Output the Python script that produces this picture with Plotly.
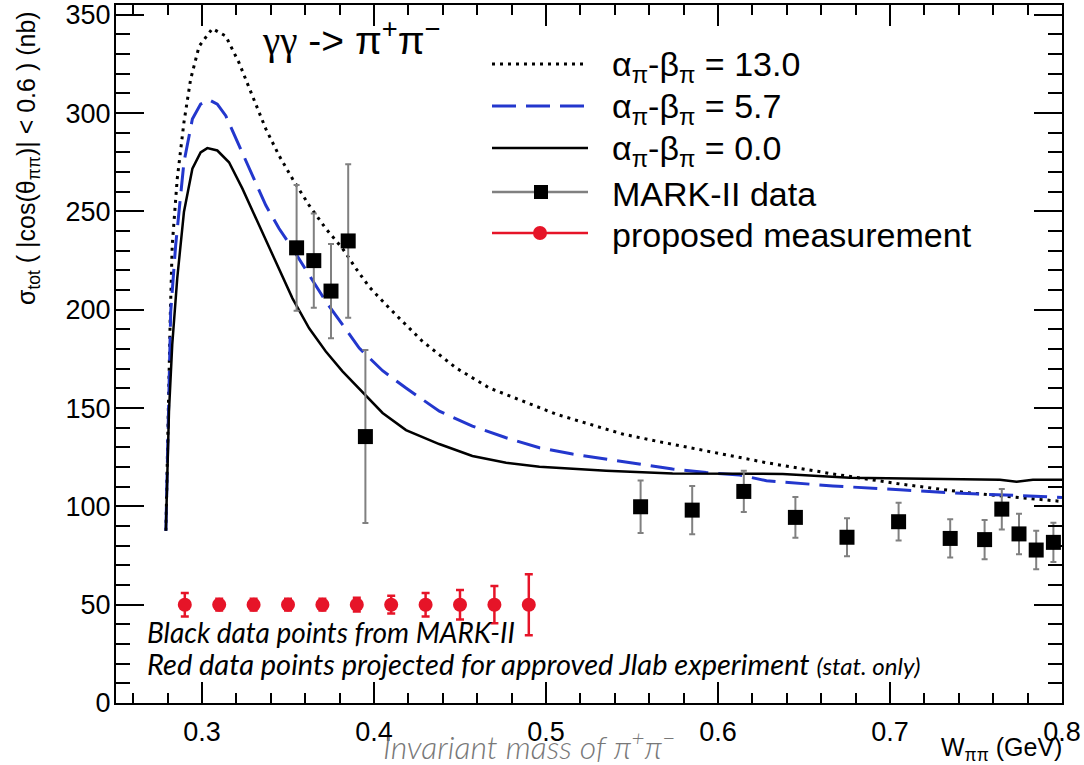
import plotly.graph_objects as go

# ---------------- data ----------------
# theory curves: alpha_pi - beta_pi = 0.0 (solid)
w_th0 = [0.2790, 0.2808, 0.2827, 0.2856, 0.2895, 0.2944, 0.2992, 0.3031, 0.3089, 0.3157,
         0.3235, 0.3332, 0.3429, 0.3526, 0.3623, 0.3720, 0.3817, 0.3914, 0.4050, 0.4186,
         0.4379, 0.4572, 0.4768, 0.4962, 0.5350, 0.5736, 0.6126, 0.6376, 0.6766, 0.7133,
         0.7639, 0.7736, 0.7831, 0.8000]
s_th0 = [87.6, 148.4, 182.2, 216.0, 249.7, 271.7, 280.0, 282.2, 281.0, 275.0,
         261.6, 243.0, 224.4, 205.8, 190.6, 178.8, 168.7, 160.0, 147.5, 138.8,
         131.7, 125.6, 122.2, 120.1, 118.1, 116.7, 116.4, 116.5, 114.6, 114.0,
         113.5, 112.5, 113.5, 113.5]

# alpha_pi - beta_pi = 5.7 (dashed blue)
w_th57 = [0.2790, 0.2805, 0.2818, 0.2847, 0.2895, 0.2944, 0.2992, 0.3041, 0.3089, 0.3138,
          0.3215, 0.3293, 0.3371, 0.3448, 0.3526, 0.3623, 0.3720, 0.3817, 0.3914, 0.4050,
          0.4186, 0.4380, 0.4572, 0.4768, 0.4962, 0.5154, 0.5350, 0.5544, 0.5736, 0.5932,
          0.6126, 0.6282, 0.6668, 0.7058, 0.7446, 0.7931, 0.8000]
s_th57 = [87.6, 150.0, 199.0, 232.9, 275.0, 297.0, 304.6, 306.8, 304.6, 298.7,
          283.5, 268.3, 253.1, 241.3, 231.2, 217.7, 204.2, 192.4, 180.5, 169.0,
          160.2, 148.4, 140.8, 134.9, 129.8, 126.6, 124.1, 121.6, 119.0, 117.2,
          116.0, 113.0, 110.4, 108.4, 106.5, 104.9, 104.5]

# alpha_pi - beta_pi = 13.0 (dotted)
w_th13 = [0.2790, 0.2805, 0.2815, 0.2827, 0.2856, 0.2895, 0.2934, 0.2983, 0.3060, 0.3138,
          0.3215, 0.3293, 0.3371, 0.3448, 0.3526, 0.3623, 0.3720, 0.3817, 0.3895, 0.3973,
          0.4089, 0.4281, 0.4477, 0.4671, 0.4863, 0.5059, 0.5253, 0.5445, 0.5641, 0.5833,
          0.6126, 0.6282, 0.6668, 0.7058, 0.7446, 0.7832, 0.8000]
s_th13 = [87.6, 160.0, 195.0, 232.9, 266.6, 295.3, 317.3, 334.0, 343.0, 339.2,
          325.7, 308.8, 292.0, 278.4, 266.6, 253.1, 241.3, 231.2, 221.0, 211.5,
          200.8, 184.0, 170.4, 160.2, 153.5, 146.9, 141.8, 136.8, 133.2, 129.8,
          124.8, 122.2, 116.5, 111.4, 107.0, 103.9, 102.5]

# MARK-II data
mark_w = [0.355, 0.365, 0.375, 0.385, 0.395, 0.555, 0.585, 0.615, 0.645, 0.675,
          0.705, 0.735, 0.755, 0.765, 0.775, 0.785, 0.795]
mark_s = [231.5, 225.0, 209.5, 235.0, 135.5, 99.8, 98.1, 107.6, 94.4, 84.3,
          92.2, 83.7, 83.1, 98.6, 86.0, 77.8, 81.7]
mark_e = [32.0, 24.0, 24.0, 39.0, 44.0, 13.4, 12.3, 10.5, 10.4, 9.7,
          9.6, 9.7, 10.0, 10.3, 10.3, 9.8, 10.0]

# proposed measurement
prop_w = [0.29, 0.31, 0.33, 0.35, 0.37, 0.39, 0.41, 0.43, 0.45, 0.47, 0.49]
prop_s = [50.0, 50.0, 50.0, 50.0, 50.0, 50.0, 50.0, 50.0, 50.0, 50.0, 50.0]
prop_e = [6.0, 3.0, 3.0, 3.0, 3.0, 3.5, 4.5, 6.0, 7.5, 9.5, 15.5]

legend_labels = ["α<sub>π</sub>-β<sub>π</sub> = 13.0",
                 "α<sub>π</sub>-β<sub>π</sub> = 5.7",
                 "α<sub>π</sub>-β<sub>π</sub> = 0.0",
                 "MARK-II data",
                 "proposed measurement"]

x_ticks = [0.3, 0.4, 0.5, 0.6, 0.7, 0.8]
y_ticks = [0, 50, 100, 150, 200, 250, 300, 350]

# ---------------- layout geometry ----------------
W, H = 1084, 765
L, R, T, B = 116, 22, 5, 62
PW, PH = W - L - R, H - T - B


def px(x):
    return (x - L) / PW


def py(y):
    return (H - B - y) / PH


BLUE = "rgb(35,55,205)"
RED = "rgb(230,20,40)"
GREY = "rgb(128,128,128)"
SANS = "Liberation Sans, Arial, sans-serif"
CAL = "Lato, sans-serif"

fig = go.Figure()

fig.add_trace(go.Scatter(x=w_th13, y=s_th13, mode="lines",
                         line=dict(color="black", width=3, dash="3px,5px"),
                         showlegend=False))
fig.add_trace(go.Scatter(x=w_th57, y=s_th57, mode="lines",
                         line=dict(color=BLUE, width=3, dash="24px,10px"),
                         showlegend=False))
fig.add_trace(go.Scatter(x=w_th0, y=s_th0, mode="lines",
                         line=dict(color="black", width=2.5),
                         showlegend=False))
fig.add_trace(go.Scatter(x=mark_w, y=mark_s, mode="markers",
                         marker=dict(symbol="square", size=15, color="black"),
                         error_y=dict(type="data", array=mark_e, color=GREY,
                                      thickness=2, width=3),
                         showlegend=False))
fig.add_trace(go.Scatter(x=prop_w, y=prop_s, mode="markers",
                         marker=dict(symbol="circle", size=14, color=RED),
                         error_y=dict(type="data", array=prop_e, color=RED,
                                      thickness=2.5, width=4),
                         showlegend=False))

# ---------------- manual legend ----------------
rows = [64, 106, 148, 192, 233]
lx0, lx1, tx = 492, 588, 610
shapes = []
line_styles = [dict(color="black", width=3, dash="3px,5px"),
               dict(color=BLUE, width=3, dash="24px,10px"),
               dict(color="black", width=2.5),
               dict(color=GREY, width=2.5),
               dict(color=RED, width=2.5)]
for ry, ls in zip(rows, line_styles):
    shapes.append(dict(type="line", xref="paper", yref="paper",
                       x0=px(lx0), x1=px(lx1), y0=py(ry), y1=py(ry), line=ls))
shapes.append(dict(type="rect", xref="paper", yref="paper",
                   xsizemode="pixel", ysizemode="pixel",
                   xanchor=px(541), yanchor=py(rows[3]),
                   x0=-7, x1=7, y0=-7, y1=7,
                   fillcolor="black", line=dict(width=0)))
shapes.append(dict(type="circle", xref="paper", yref="paper",
                   xsizemode="pixel", ysizemode="pixel",
                   xanchor=px(540), yanchor=py(rows[4]),
                   x0=-7, x1=7, y0=-7, y1=7,
                   fillcolor=RED, line=dict(width=0)))

annotations = []
for ry, lab in zip(rows, legend_labels):
    annotations.append(dict(x=px(tx), y=py(ry + 2), xref="paper", yref="paper",
                            text=lab, showarrow=False, xanchor="left", yanchor="middle",
                            font=dict(family=SANS, size=34, color="black")))

# title
annotations.append(dict(
    x=px(260), y=py(38), xref="paper", yref="paper", xanchor="left", yanchor="middle",
    showarrow=False,
    text="<span style=\"font-family:'Liberation Serif'\">γγ</span> -&gt; "
         "π<sup>+</sup>π<sup>−</sup>",
    font=dict(family=SANS, size=39, color="black")))

# y axis title
annotations.append(dict(
    x=px(28), y=py(158), xref="paper", yref="paper", xanchor="center", yanchor="middle",
    showarrow=False, textangle=-90,
    text="σ<sub>tot</sub> ( |cos(θ<sub>ππ</sub>)| &lt; 0.6 ) (nb)",
    font=dict(family=SANS, size=25, color="black")))

# x axis title
annotations.append(dict(
    x=px(1064), y=py(749), xref="paper", yref="paper", xanchor="right", yanchor="middle",
    showarrow=False, text="W<sub>ππ</sub> (GeV)",
    font=dict(family=SANS, size=25, color="black")))

# invariant mass label
annotations.append(dict(
    x=px(529), y=py(745), xref="paper", yref="paper", xanchor="center", yanchor="middle",
    showarrow=False, text="<i>Invariant mass of π<sup>+</sup>π<sup>−</sup></i>",
    font=dict(family=CAL, size=32, color="rgb(120,120,120)", weight=300)))

# notes
annotations.append(dict(
    x=px(145), y=py(632), xref="paper", yref="paper", xanchor="left", yanchor="middle",
    showarrow=False, text="<i>Black data points from MARK-II</i>",
    font=dict(family=CAL, size=28, color="black")))
annotations.append(dict(
    x=px(145), y=py(663), xref="paper", yref="paper", xanchor="left", yanchor="middle",
    showarrow=False,
    text="<i>Red data points projected for approved Jlab experiment "
         "<span style=\"font-size:24px\">(stat. only)</span></i>",
    font=dict(family=CAL, size=29, color="black")))

fig.update_layout(
    width=W, height=H,
    margin=dict(l=L, r=R, t=T, b=B, autoexpand=False),
    paper_bgcolor="white", plot_bgcolor="white",
    shapes=shapes, annotations=annotations,
    showlegend=False,
)

fig.update_xaxes(
    range=[0.25, 0.8], tickvals=x_ticks, ticktext=[str(v) for v in x_ticks],
    automargin=False, ticklabeloverflow="allow",
    showgrid=False, zeroline=False,
    showline=True, linecolor="black", linewidth=2, mirror="allticks",
    ticks="inside", ticklen=21, tickwidth=1.5, tickcolor="black",
    minor=dict(ticks="inside", ticklen=10, dtick=0.02, tick0=0.3,
               tickwidth=1.5, tickcolor="black", showgrid=False),
    tickfont=dict(family=SANS, size=27, color="black"),
    ticklabelstandoff=4,
)
fig.update_yaxes(
    range=[0, 355], tickvals=y_ticks, ticktext=[str(v) for v in y_ticks],
    automargin=False, ticklabeloverflow="allow",
    showgrid=False, zeroline=False,
    showline=True, linecolor="black", linewidth=2, mirror="allticks",
    ticks="inside", ticklen=28, tickwidth=1.5, tickcolor="black",
    minor=dict(ticks="inside", ticklen=14, dtick=10, tick0=0,
               tickwidth=1.5, tickcolor="black", showgrid=False),
    tickfont=dict(family=SANS, size=27, color="black"),
    ticklabelstandoff=-2,
)

fig.write_html("out.html",
               config={"displayModeBar": False},
               post_script="document.body.style.margin='0px';document.body.style.overflow='hidden';")
